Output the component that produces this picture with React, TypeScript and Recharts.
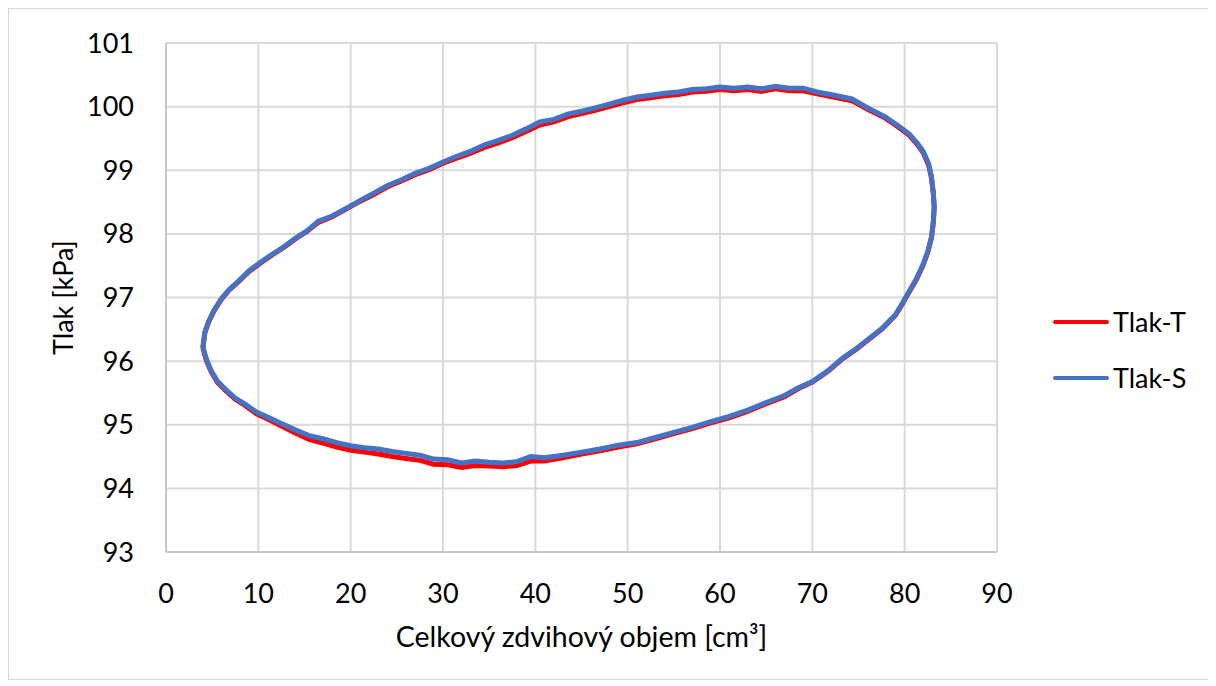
import React from "react";
import { LineChart, Line, XAxis, YAxis, CartesianGrid, Legend } from "recharts";

const xTicks = [0, 10, 20, 30, 40, 50, 60, 70, 80, 90];
const yTicks = [93, 94, 95, 96, 97, 98, 99, 100, 101];

const seriesNames = ["Tlak-T", "Tlak-S"];
const seriesColors = ["#ff0000", "#4472c4"];

// Tlak-S (blue) loop: [volume, pressure]
const tlakS: [number, number][] = [
  [4.0, 96.22], [4.2, 96.45], [4.6, 96.62], [5.2, 96.8], [6.0, 96.98], [6.8, 97.12], [7.8, 97.25],
  [9.0, 97.42], [10.2, 97.55], [11.5, 97.68], [12.8, 97.8], [14.0, 97.93], [15.3, 98.05], [16.5, 98.2],
  [18.0, 98.28], [19.5, 98.4], [21.0, 98.52], [22.5, 98.64], [24.0, 98.76], [25.5, 98.85], [27.0, 98.95],
  [28.5, 99.03], [30.0, 99.13], [31.5, 99.22], [33.0, 99.3], [34.5, 99.4], [36.0, 99.47], [37.5, 99.55],
  [39.0, 99.65], [40.5, 99.76], [42.0, 99.8], [43.5, 99.88], [45.0, 99.93], [46.5, 99.98], [48.0, 100.04],
  [49.5, 100.1], [51.0, 100.15], [52.5, 100.18], [54.0, 100.21], [55.5, 100.23], [57.0, 100.27], [58.5, 100.28],
  [60.0, 100.31], [61.5, 100.29], [63.0, 100.31], [64.5, 100.28], [66.0, 100.32], [67.5, 100.29], [69.0, 100.29],
  [70.5, 100.23], [72.0, 100.19], [74.3, 100.12], [76.0, 99.98], [77.9, 99.84], [79.3, 99.7], [80.5, 99.57],
  [81.4, 99.42], [82.0, 99.3], [82.6, 99.1], [82.9, 98.9], [83.1, 98.65], [83.2, 98.42], [83.1, 98.18],
  [82.9, 97.94], [82.5, 97.72], [82.0, 97.52], [81.3, 97.3], [80.5, 97.1], [79.8, 96.92], [79.0, 96.73],
  [77.6, 96.52], [76.2, 96.36], [74.8, 96.2], [73.3, 96.05], [71.7, 95.85], [70.0, 95.68], [68.5, 95.58],
  [67.0, 95.46], [65.0, 95.35], [63.0, 95.23], [61.0, 95.13], [59.0, 95.05], [57.0, 94.96], [55.0, 94.88],
  [53.0, 94.8], [51.0, 94.72], [49.0, 94.68], [47.0, 94.62], [45.0, 94.57], [43.0, 94.52], [41.0, 94.48],
  [39.5, 94.5], [38.0, 94.42], [36.5, 94.4], [35.0, 94.41], [33.5, 94.43], [32.0, 94.4], [30.5, 94.45],
  [29.0, 94.46], [27.5, 94.52], [26.0, 94.55], [24.5, 94.58], [23.0, 94.62], [21.5, 94.64], [20.0, 94.67],
  [18.5, 94.72], [17.0, 94.78], [15.5, 94.83], [14.0, 94.92], [12.5, 95.02], [11.0, 95.12], [9.8, 95.2],
  [8.6, 95.32], [7.5, 95.42], [6.5, 95.55], [5.6, 95.68], [4.9, 95.85], [4.4, 96.02], [4.0, 96.22],
];

// Tlak-T (red) loop: [volume, pressure]
const tlakT: [number, number][] = [
  [4.0, 96.2], [4.2, 96.44], [4.6, 96.61], [5.2, 96.79], [6.0, 96.97], [6.8, 97.11], [7.8, 97.24],
  [9.0, 97.41], [10.2, 97.54], [11.5, 97.67], [12.8, 97.79], [14.0, 97.92], [15.3, 98.04], [16.5, 98.18],
  [18.0, 98.27], [19.5, 98.39], [21.0, 98.51], [22.5, 98.62], [24.0, 98.74], [25.5, 98.83], [27.0, 98.93],
  [28.5, 99.01], [30.0, 99.11], [31.5, 99.19], [33.0, 99.27], [34.5, 99.36], [36.0, 99.43], [37.5, 99.51],
  [39.0, 99.61], [40.5, 99.71], [42.0, 99.76], [43.5, 99.84], [45.0, 99.89], [46.5, 99.94], [48.0, 100.0],
  [49.5, 100.06], [51.0, 100.11], [52.5, 100.14], [54.0, 100.17], [55.5, 100.19], [57.0, 100.23], [58.5, 100.24],
  [60.0, 100.27], [61.5, 100.25], [63.0, 100.27], [64.5, 100.24], [66.0, 100.28], [67.5, 100.25], [69.0, 100.25],
  [70.5, 100.2], [72.0, 100.16], [74.3, 100.09], [76.0, 99.96], [77.9, 99.82], [79.3, 99.68], [80.5, 99.55],
  [81.4, 99.4], [82.0, 99.28], [82.6, 99.08], [82.9, 98.88], [83.1, 98.64], [83.2, 98.42], [83.1, 98.18],
  [82.9, 97.94], [82.5, 97.71], [82.0, 97.51], [81.3, 97.29], [80.5, 97.09], [79.8, 96.91], [79.0, 96.72],
  [77.6, 96.51], [76.2, 96.35], [74.8, 96.19], [73.3, 96.04], [71.7, 95.84], [70.0, 95.67], [68.5, 95.57],
  [67.0, 95.44], [65.0, 95.33], [63.0, 95.21], [61.0, 95.11], [59.0, 95.03], [57.0, 94.94], [55.0, 94.86],
  [53.0, 94.78], [51.0, 94.7], [49.0, 94.65], [47.0, 94.59], [45.0, 94.54], [43.0, 94.48], [41.0, 94.43],
  [39.5, 94.43], [38.0, 94.36], [36.5, 94.34], [35.0, 94.35], [33.5, 94.36], [32.0, 94.33], [30.5, 94.37],
  [29.0, 94.38], [27.5, 94.44], [26.0, 94.47], [24.5, 94.5], [23.0, 94.54], [21.5, 94.57], [20.0, 94.6],
  [18.5, 94.65], [17.0, 94.71], [15.5, 94.77], [14.0, 94.87], [12.5, 94.98], [11.0, 95.09], [9.8, 95.17],
  [8.6, 95.3], [7.5, 95.4], [6.5, 95.53], [5.6, 95.66], [4.9, 95.83], [4.4, 96.0], [4.0, 96.2],
];

const toRows = (pts: [number, number][]) => pts.map(([x, y]) => ({ x, y }));

const FONT = "Lato, 'Open Sans', sans-serif";

const YTitle = (props: any) => {
  const vb = props.viewBox || { x: 0, y: 0, width: 0, height: 0 };
  const cx = vb.x + 53;
  const cy = vb.y + vb.height / 2;
  return (
    <text
      x={cx}
      y={cy}
      transform={`rotate(-90, ${cx}, ${cy})`}
      textAnchor="middle"
      dominantBaseline="central"
      fontSize={27}
      fontFamily={FONT}
      fill="#000"
    >
      Tlak [kPa]
    </text>
  );
};

const LegendContent = () => (
  <div style={{ fontFamily: FONT, fontSize: 27, color: "#000" }}>
    {seriesNames.map((name, i) => (
      <div
        key={name}
        style={{ display: "flex", alignItems: "center", height: 40, marginBottom: i === 0 ? 16 : 0 }}
      >
        <svg width={56} height={10} style={{ display: "block" }}>
          <line x1={2} y1={5} x2={54} y2={5} stroke={seriesColors[i]} strokeWidth={4} strokeLinecap="round" />
        </svg>
        <span style={{ marginLeft: 4, lineHeight: "40px" }}>{name}</span>
      </div>
    ))}
  </div>
);

export default function App() {
  return (
    <div
      style={{
        width: 1202,
        height: 672,
        border: "1px solid #d9d9d9",
        boxSizing: "border-box",
        background: "#fff",
        position: "relative",
      }}
    >
      <LineChart
        width={1200}
        height={670}
        margin={{ top: 34, right: 62, bottom: 22, left: 0 }}
        style={{ fontFamily: FONT }}
      >
        <CartesianGrid stroke="#d9d9d9" strokeWidth={2} />
        <XAxis
          type="number"
          dataKey="x"
          domain={[0, 90]}
          ticks={xTicks}
          interval={0}
          allowDataOverflow
          height={105}
          tickSize={0}
          tickMargin={32}
          tickLine={false}
          axisLine={{ stroke: "#c8c8c8", strokeWidth: 2 }}
          tick={{ fill: "#000", fontSize: 27, fontFamily: FONT }}
          label={{
            value: "Celkový zdvihový objem [cm³]",
            position: "insideBottom",
            offset: 10,
            fill: "#000",
            fontSize: 28.5,
            fontFamily: FONT,
          }}
        />
        <YAxis
          type="number"
          dataKey="y"
          domain={[93, 101]}
          ticks={yTicks}
          interval={0}
          allowDataOverflow
          width={157}
          tickSize={0}
          tickMargin={32}
          tickLine={false}
          axisLine={{ stroke: "#c8c8c8", strokeWidth: 2 }}
          tick={{ fill: "#000", fontSize: 27, fontFamily: FONT }}
          label={<YTitle />}
        />
        <Legend
          layout="vertical"
          align="right"
          verticalAlign="middle"
          content={<LegendContent />}
          wrapperStyle={{ width: 150, left: 1044, top: 293, right: "auto" }}
        />
        <Line
          data={toRows(tlakT)}
          dataKey="y"
          name={seriesNames[0]}
          stroke={seriesColors[0]}
          strokeWidth={5}
          dot={false}
          activeDot={false}
          type="linear"
          isAnimationActive={false}
        />
        <Line
          data={toRows(tlakS)}
          dataKey="y"
          name={seriesNames[1]}
          stroke={seriesColors[1]}
          strokeWidth={5}
          dot={false}
          activeDot={false}
          type="linear"
          isAnimationActive={false}
        />
      </LineChart>
    </div>
  );
}
